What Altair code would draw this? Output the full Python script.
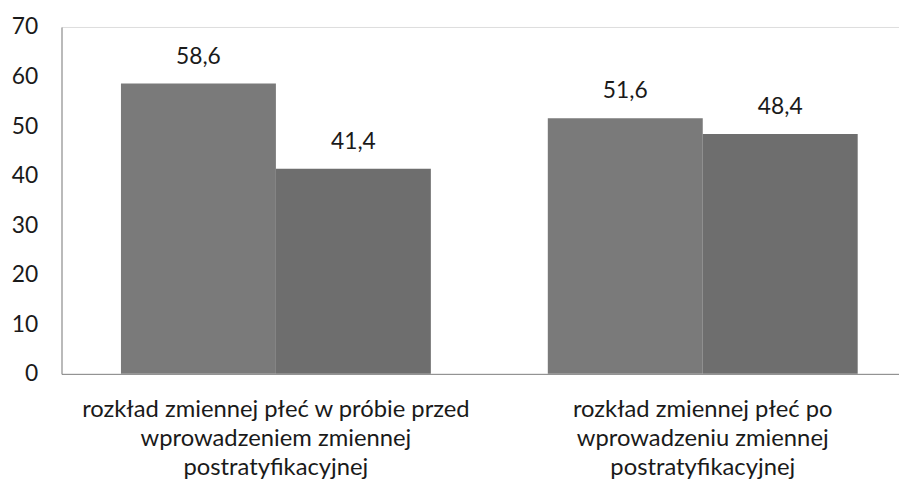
import altair as alt
import pandas as pd

groups = [
    "rozkład zmiennej płeć w próbie przed|wprowadzeniem zmiennej|postratyfikacyjnej",
    "rozkład zmiennej płeć po|wprowadzeniu zmiennej|postratyfikacyjnej",
]
series = ["A", "B"]
values = [[58.6, 41.4], [51.6, 48.4]]
colors = ["#7a7a7a", "#6e6e6e"]

rows = []
for gi, g in enumerate(groups):
    for si, s in enumerate(series):
        v = values[gi][si]
        rows.append({"group": g, "series": s, "value": v,
                     "label": f"{v:.1f}".replace(".", ",")})
df = pd.DataFrame(rows)

FONT = "Lato"
FS = 23

base = alt.Chart(df).encode(
    x=alt.X("group:N", sort=groups, title=None,
            scale=alt.Scale(paddingInner=0.274, paddingOuter=0.118, align=0.59),
            axis=alt.Axis(labelAngle=0, ticks=False, domainColor="#868686",
                          labelExpr="split(datum.label, '|')", labelFontSize=24,
                          labelFont=FONT, labelColor="#1a1a1a", labelLineHeight=29.5,
                          labelPadding=24, labelBaseline="top", labelLimit=0)),
    xOffset=alt.XOffset("series:N", sort=series, scale=alt.Scale(paddingInner=0, paddingOuter=0)),
)

bars = base.mark_bar().encode(
    y=alt.Y("value:Q", title=None,
            scale=alt.Scale(domain=[0, 70]),
            axis=alt.Axis(values=list(range(0, 71, 10)), grid=False, ticks=False,
                          domainColor="#868686", labelFontSize=FS, labelFont=FONT,
                          labelColor="#1a1a1a", labelPadding=24)),
    color=alt.Color("series:N", scale=alt.Scale(domain=series, range=colors), legend=None),
)

text = base.mark_text(dy=-27, fontSize=FS, font=FONT, color="#1a1a1a").encode(
    y=alt.Y("value:Q"),
    text="label:N",
)

chart = (bars + text).properties(
    width=845, height=350,
    autosize=alt.AutoSizeParams(type="none"),
    padding={"left": 54, "top": 17, "right": 0, "bottom": 112},
).configure_view(stroke=None).configure(background="white")

chart.save("out.html", embed_options={"renderer": "svg", "actions": False})
